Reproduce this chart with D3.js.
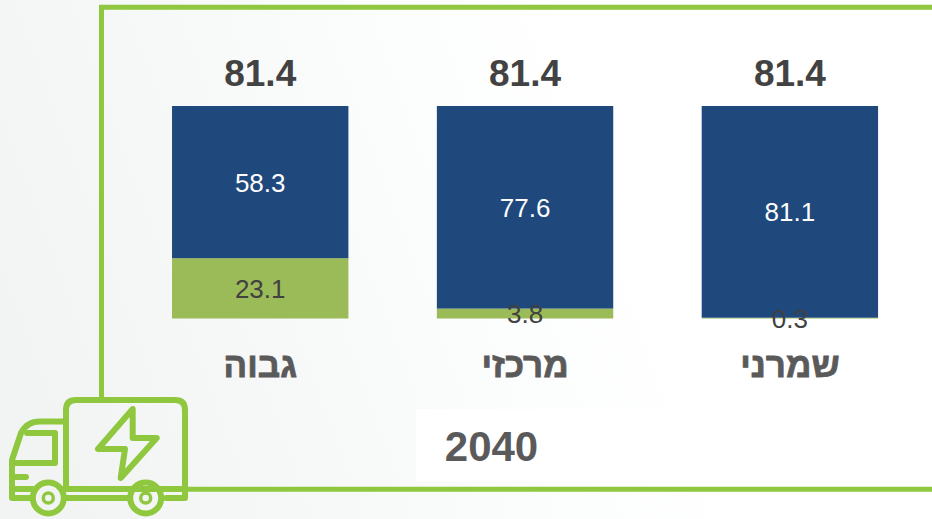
<!DOCTYPE html>
<html lang="he">
<head>
<meta charset="utf-8">
<script src="https://cdn.jsdelivr.net/npm/d3@7"></script>
<style>
html,body{margin:0;padding:0;background:#fff;overflow:hidden}
svg{display:block}
text{font-family:"Liberation Sans",Arial,sans-serif;opacity:.99}
</style>
</head>
<body>
<svg id="chart" width="932" height="519"></svg>
<script>
const scenarios = ["גבוה", "מרכזי", "שמרני"];
const navyValues = [58.3, 77.6, 81.1];
const greenValues = [23.1, 3.8, 0.3];
const totals = [81.4, 81.4, 81.4];
const yearLabel = "2040";

const svg = d3.select("#chart");
const defs = svg.append("defs");
const grad = defs.append("linearGradient").attr("id","bg").attr("gradientUnits","userSpaceOnUse")
  .attr("x1",0).attr("y1",330).attr("x2",600).attr("y2",110);
grad.append("stop").attr("offset","0").attr("stop-color","#f2f4f4");
grad.append("stop").attr("offset","0.4").attr("stop-color","#f7f8f8");
grad.append("stop").attr("offset","0.75").attr("stop-color","#fcfdfd");
grad.append("stop").attr("offset","1").attr("stop-color","#ffffff");
svg.append("rect").attr("width",932).attr("height",519).attr("fill","url(#bg)");
svg.append("rect").attr("x",416).attr("y",409).attr("width",516).attr("height",72).attr("fill","#fff");

const frameColor = "#8fc83f";
svg.append("path").attr("d","M101.5,400V7.2H940M186,489.3H940").attr("fill","none").attr("stroke",frameColor).attr("stroke-width",5);

const x = d3.scaleBand().domain(scenarios).range([127.8,922.3]).paddingInner(0.334).paddingOuter(0.167);
const y = d3.scaleLinear().domain([0,81.4]).range([318.5,106]);

const rows = scenarios.map((s,i)=>({s,navy:navyValues[i],green:greenValues[i],total:totals[i]}));
const g = svg.selectAll("g.col").data(rows).join("g").attr("class","col");

g.append("rect").attr("x",d=>x(d.s)).attr("width",x.bandwidth())
  .attr("y",d=>y(d.green)).attr("height",d=>y(0)-y(d.green)).attr("fill","#9bbb59");
g.append("rect").attr("x",d=>x(d.s)).attr("width",x.bandwidth())
  .attr("y",d=>y(d.green+d.navy)).attr("height",d=>y(d.green)-y(d.green+d.navy)).attr("fill","#1f497d");

const cx = d=>x(d.s)+x.bandwidth()/2;
g.append("text").attr("x",cx).attr("y",d=>y(d.green+d.navy/2)+9.5).attr("text-anchor","middle")
  .attr("font-size",26).attr("fill","#fff").text(d=>d.navy.toFixed(1));
g.append("text").attr("x",cx).attr("y",d=>y(d.green/2)+9.5).attr("text-anchor","middle")
  .attr("font-size",26).attr("fill","#404040").text(d=>d.green.toFixed(1));
g.append("text").attr("x",cx).attr("y",d=>y(d.total)-20).attr("text-anchor","middle")
  .attr("font-size",37).attr("font-weight","700").attr("fill","#404040").text(d=>d.total.toFixed(1));
g.append("text").attr("x",d=>cx(d)).attr("y",377).attr("text-anchor","middle").attr("direction","rtl")
  .attr("font-size",35).attr("font-weight","700").attr("fill","#595959")
  .attr("stroke","#595959").attr("stroke-width",0.8).text(d=>d.s);

svg.append("text").attr("x",491.5).attr("y",461).attr("text-anchor","middle")
  .attr("font-size",42).attr("font-weight","700").attr("fill","#595959").text(yearLabel);

// truck icon
const t = svg.append("g").attr("fill","none").attr("stroke",frameColor).attr("stroke-width",6).attr("stroke-linejoin","round").attr("stroke-linecap","round");
t.append("path").attr("d","M66,489V410Q66,400 76,400H175Q185,400 185,410V498H166");
t.append("path").attr("d","M66,421.5H40Q27,421.5 21,433L12,460V498H30");
t.append("path").attr("d","M27,433H55V463H13");
t.append("path").attr("d","M12,477H26");
t.append("path").attr("d","M12,489H33M63,489H185");
t.append("path").attr("d","M66,498H128");
t.append("path").attr("d","M132.7,409L98,449H125L120.7,478L156.7,438H132.7Z");
[48.3,145.7].forEach(c=>{
  t.append("circle").attr("cx",c).attr("cy",498).attr("r",15.5);
  t.append("circle").attr("cx",c).attr("cy",498).attr("r",5).attr("stroke-width",3.5);
});
</script>
</body>
</html>
